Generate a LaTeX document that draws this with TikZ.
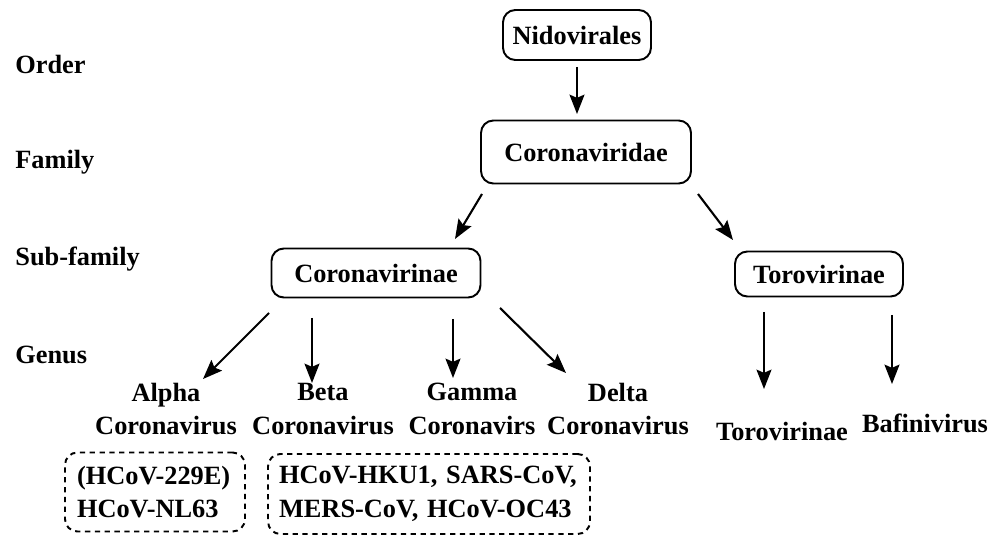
\documentclass[tikz,border=0pt]{standalone}
\usepackage{fontspec}
\setmainfont{Liberation Serif}
\usepackage{tikz}
\usetikzlibrary{arrows.meta,positioning,calc}

\begin{document}
\begin{tikzpicture}[x=0.02cm, y=-0.02cm,
    taxon/.style={draw, rounded corners=7pt, line width=1.1pt, font=\fontsize{15}{19}\selectfont\bfseries, inner sep=0pt},
    lvl/.style={anchor=west, font=\fontsize{15}{18}\selectfont\bfseries, inner sep=0pt},
    lab/.style={align=center, font=\fontsize{15}{19}\selectfont\bfseries, inner sep=0pt},
    grp/.style={draw, dash pattern=on 3pt off 2.6pt, rounded corners=7pt, line width=1.1pt,
      align=left, font=\fontsize{15}{19}\selectfont\bfseries, inner ysep=0pt},
    arr/.style={-{Stealth[length=11pt,width=8.5pt,inset=1.8pt]}, line width=1.2pt}]
    \useasboundingbox (0,0) rectangle (992,537);

    % Left: rank labels
    \node[lvl] (order) at (15,64) {Order};
    \node[lvl] (family) at (15,162) {Family};
    \node[lvl] (subfam) at (15,259) {Sub-family};
    \node[lvl] (genus) at (15,355) {Genus};

    % Tree boxes
    \node[taxon, minimum width=2.96cm, minimum height=1.0cm] (nido) at (577,35) {Nidovirales};
    \node[taxon, minimum width=4.2cm, minimum height=1.26cm] (corida) at (586,152) {Coronaviridae};
    \node[taxon, minimum width=4.18cm, minimum height=0.98cm] (corinae) at (376,273) {Coronavirinae};
    \node[taxon, minimum width=3.36cm, minimum height=0.9cm] (toro) at (819,274) {Torovirinae};

    % Genus names
    \node[lab] (alpha) at (166,409) {Alpha\\Coronavirus};
    \node[lab] (beta) at (323,409) {Beta\\Coronavirus};
    \node[lab] (gamma) at (472,409) {Gamma\\Coronavirs};
    \node[lab] (delta) at (618,409) {Delta\\Coronavirus};
    \node[lab] (torog) at (782,431) {Torovirinae};
    \node[lab] (bafi) at (925,423) {Bafinivirus};

    % Human coronaviruses (dashed groups)
    \node[grp, text width=3.12cm, inner xsep=0.24cm, minimum height=1.58cm] (grpa) at (155,492)
      {(HCoV-229E)\\HCoV-NL63};
    \node[grp, text width=6.0cm, inner xsep=0.22cm, minimum height=1.6cm] (grpb) at (429,494)
      {HCoV-HKU1, SARS-CoV,\\MERS-CoV, HCoV-OC43};

    % helper points for arrow ends
    \coordinate (n1) at (577,67);   \coordinate (n2) at (577,114);
    \coordinate (c1) at (482,194);  \coordinate (c2) at (455,239);
    \coordinate (c3) at (698,194);  \coordinate (c4) at (733,240);
    \coordinate (a1) at (269,313);  \coordinate (a2) at (203,379);
    \coordinate (b1) at (312,318);  \coordinate (b2) at (312,383);
    \coordinate (g1) at (453,319);  \coordinate (g2) at (453,378);
    \coordinate (d1) at (500,308);  \coordinate (d2) at (566,373);
    \coordinate (t1) at (764,312);  \coordinate (t2) at (764,389);
    \coordinate (f1) at (892,315);  \coordinate (f2) at (892,384);

    \draw[arr] (n1) -- (n2);
    \draw[arr] (c1) -- (c2);
    \draw[arr] (c3) -- (c4);
    \draw[arr] (a1) -- (a2);
    \draw[arr] (b1) -- (b2);
    \draw[arr] (g1) -- (g2);
    \draw[arr] (d1) -- (d2);
    \draw[arr] (t1) -- (t2);
    \draw[arr] (f1) -- (f2);
\end{tikzpicture}
\end{document}
